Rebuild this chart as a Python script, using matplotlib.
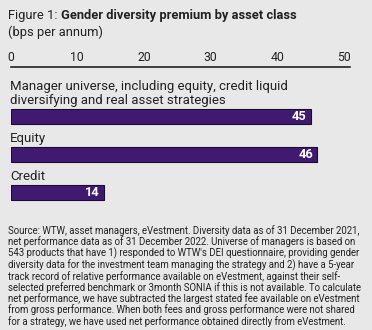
import matplotlib.pyplot as plt

# Data
categories = ["Manager universe, including equity, credit liquid\ndiversifying and real asset strategies",
              "Equity", "Credit"]
values = [45, 46, 14]
ticks = [0, 10, 20, 30, 40, 50]

source = ("Source: WTW, asset managers, eVestment. Diversity data as of 31 December 2021,\n"
          "net performance data as of 31 December 2022. Universe of managers is based on\n"
          "543 products that have 1) responded to WTW's DEI questionnaire, providing gender\n"
          "diversity data for the investment team managing the strategy and 2) have a 5-year\n"
          "track record of relative performance available on eVestment, against their self-\n"
          "selected preferred benchmark or 3month SONIA if this is not available. To calculate\n"
          "net performance, we have subtracted the largest stated fee available on eVestment\n"
          "from gross performance. When both fees and gross performance were not shared\n"
          "for a strategy, we have used net performance obtained directly from eVestment.")

plt.rcParams["font.family"] = "Roboto"
bg = "#e8e8e9"
bar_color = "#401a70"
txt = "#222222"

fig = plt.figure(figsize=(3.72, 3.3), dpi=100, facecolor=bg)
W, H = 372, 330

# Bars axes
left_px, right_px = 10.7, 350
top_px, bot_px = 67, 205
ax = fig.add_axes([left_px / W, 1 - bot_px / H, (right_px - left_px) / W, (bot_px - top_px) / H])
ax.set_facecolor(bg)
ax.set_xlim(0, 50.9)
ax.set_ylim(2.32, -1.28)
pos = list(range(len(values)))
bh = 0.39
ax.barh(pos, values, height=bh, color=bar_color, edgecolor="#1c0b33", linewidth=0.8)

for i, (c, v) in enumerate(zip(categories, values)):
    ax.annotate(c, xy=(0, i - bh / 2), xytext=(-0.5, 1.5), textcoords="offset points",
                va="bottom", ha="left", fontsize=9.5, color=txt, linespacing=1.05)
    ax.annotate(str(v), xy=(v, i), xytext=(-3, 0), textcoords="offset points",
                va="center", ha="right", fontsize=9.3, fontweight="bold", color="white")

ax.xaxis.tick_top()
ax.set_xticks(ticks)
ax.set_xticklabels([str(t) for t in ticks])
ax.tick_params(axis="x", length=0, pad=2, labelsize=8.8, labelcolor=txt)
ax.set_yticks([])
for s in ["left", "right", "bottom"]:
    ax.spines[s].set_visible(False)
ax.spines["top"].set_linewidth(1.1)
ax.spines["top"].set_color("#111111")

# Title
t1 = fig.text(8 / W, 1 - 16 / H, "Figure 1: ", fontsize=9.3, va="center", ha="left", color=txt)
fig.text(8 / W, 1 - 32 / H, "(bps per annum)", fontsize=9.3, va="center", ha="left", color=txt)
ax.annotate("Gender diversity premium by asset class", xy=(1, 0), xycoords=t1,
            va="bottom", ha="left", fontsize=9.3, fontweight="bold", color=txt,
            annotation_clip=False)

# Source note
fig.text(8 / W, 1 - 225 / H, source, fontsize=6.95, va="top", ha="left", color=txt,
         linespacing=1.03)

fig.savefig("out.png", dpi=100, facecolor=bg)
